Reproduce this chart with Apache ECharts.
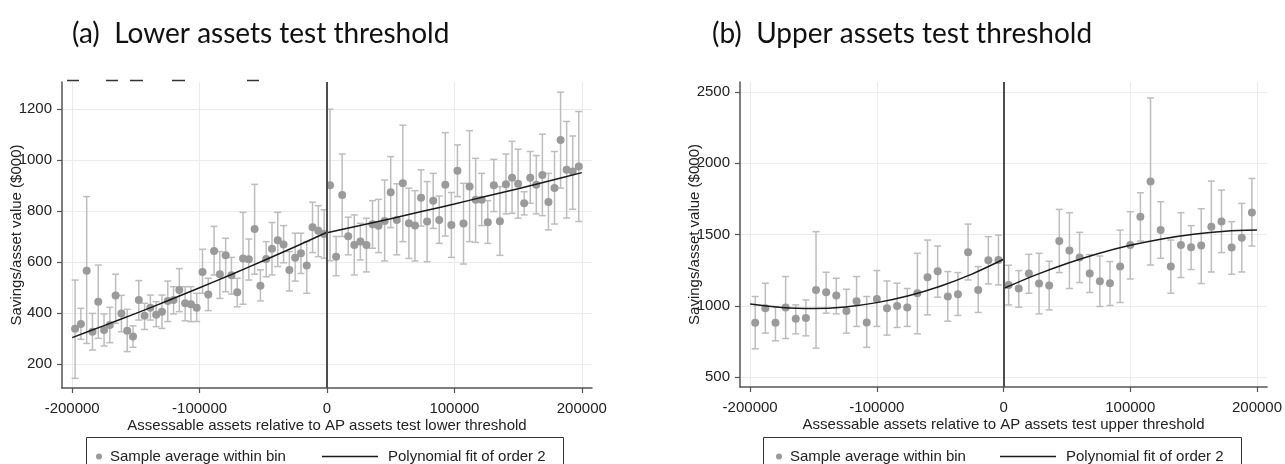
<!DOCTYPE html>
<html>
<head>
<meta charset="utf-8">
<script src="https://cdn.jsdelivr.net/npm/echarts@6.0.0/dist/echarts.min.js"></script>
<style>
html,body{margin:0;padding:0;background:#fff;}
#chart{width:1285px;height:464px;}
</style>
</head>
<body>
<div id="chart"></div>
<script>
// ---------- Panel (a): lower assets test threshold ----------
const aLeftX = [-197727,-193182,-188636,-184091,-179545,-175000,-170455,-165909,-161364,-156818,-152273,-147727,-143182,-138636,-134091,-129545,-125000,-120455,-115909,-111364,-106818,-102273,-97727,-93182,-88636,-84091,-79545,-75000,-70455,-65909,-61364,-56818,-52273,-47727,-43182,-38636,-34091,-29545,-25000,-20455,-15909,-11364,-6818,-2273];
const aLeftY = [338,356,566,326,444,333,352,468,398,330,307,451,389,420,393,405,447,451,490,438,434,420,561,472,643,552,626,548,481,614,611,730,507,612,652,685,669,569,617,634,586,736,723,710];
const aLeftLo = [143,296,280,254,300,270,283,359,326,248,265,372,335,372,346,339,366,396,405,369,366,366,477,409,549,457,483,474,424,434,529,552,447,542,549,582,597,486,525,555,477,637,621,615];
const aLeftHi = [529,418,857,398,588,396,422,552,469,414,349,527,438,470,444,470,525,503,574,503,503,477,650,536,740,641,693,618,536,795,690,905,569,680,755,795,743,641,713,713,680,835,821,805];

const aRightX = [2381,7143,11905,16667,21429,26190,30952,35714,40476,45238,50000,54762,59524,64286,69048,73810,78571,83333,88095,92857,97619,102381,107143,111905,116667,121429,126190,130952,135714,140476,145238,150000,154762,159524,164286,169048,173810,178571,183333,188095,192857,197619];
const aRightY = [901,621,863,701,667,680,667,748,742,761,874,765,909,752,743,852,759,841,765,903,745,958,751,897,844,844,756,901,760,905,931,907,831,931,903,942,836,891,1079,962,955,975];
const aRightLo = [605,546,700,628,549,608,561,654,637,604,735,628,680,614,604,741,601,732,673,702,618,857,592,680,677,743,673,798,626,789,791,772,785,831,789,782,726,749,890,773,807,759];
const aRightHi = [1200,700,1024,776,785,752,772,841,846,922,1014,907,1137,890,880,962,916,948,859,1108,873,1060,909,1116,1007,948,841,1003,896,1024,1074,1043,876,1034,1018,1102,948,1034,1267,1152,1095,1191];

const aFitLeftX = [-200000,-175000,-150000,-125000,-100000,-75000,-50000,-25000,0];
const aFitLeftY = [303,350,398,448,499,551,605,660,717];
const aFitRightX = [0,25000,50000,75000,100000,125000,150000,175000,200000];
const aFitRightY = [715,742,770,799,828,858,888,919,951];

// ---------- Panel (b): upper assets test threshold ----------
const bLeftX = [-196000,-188000,-180000,-172000,-164000,-156000,-148000,-140000,-132000,-124000,-116000,-108000,-100000,-92000,-84000,-76000,-68000,-60000,-52000,-44000,-36000,-28000,-20000,-12000,-4000];
const bLeftY = [880,983,880,988,908,915,1111,1095,1072,964,1032,883,1048,983,999,988,1088,1200,1242,1065,1081,1375,1111,1319,1321];
const bLeftLo = [698,808,754,770,803,789,703,948,943,808,855,708,855,794,848,855,803,936,1060,892,932,1181,953,1153,1146];
const bLeftHi = [1065,1158,995,1205,1006,1041,1520,1235,1193,1116,1205,1065,1247,1174,1158,1121,1368,1461,1419,1240,1233,1573,1275,1485,1496];

const bRightX = [4000,12000,20000,28000,36000,44000,52000,60000,68000,76000,84000,92000,100000,108000,116000,124000,132000,140000,148000,156000,164000,172000,180000,188000,196000];
const bRightY = [1146,1121,1226,1156,1142,1454,1387,1338,1226,1172,1158,1275,1426,1625,1872,1531,1275,1426,1410,1422,1555,1592,1408,1478,1655];
const bRightLo = [1006,990,1088,943,971,1233,1121,1163,1093,995,1002,1023,1188,1454,1286,1333,1088,1198,1254,1156,1237,1373,1221,1237,1419];
const bRightHi = [1284,1247,1361,1368,1312,1676,1653,1515,1359,1349,1310,1531,1660,1793,2458,1730,1461,1653,1562,1681,1875,1812,1590,1718,1893];

const bFitLeftX = [-200000,-175000,-150000,-125000,-100000,-75000,-50000,-25000,0];
const bFitLeftY = [1013,988,981,992,1022,1070,1137,1222,1326];
const bFitRightX = [0,25000,50000,75000,100000,125000,150000,175000,200000];
const bFitRightY = [1121,1215,1297,1367,1424,1469,1502,1523,1531];

// ---------- ticks / text ----------
const xTicks = [-200000,-100000,0,100000,200000];
const aYTicks = [200,400,600,800,1000,1200];
const bYTicks = [500,1000,1500,2000,2500];
const titles = ['(a)  Lower assets test threshold','(b)  Upper assets test threshold'];
const xNames = ['Assessable assets relative to AP assets test lower threshold','Assessable assets relative to AP assets test upper threshold'];
const yName = 'Savings/asset value ($000)';
const dotName = 'Sample average within bin';
const fitName = 'Polynomial fit of order 2';

// ---------- helpers ----------
const zip2 = (xs, ys) => xs.map((x, i) => [x, ys[i]]);
const zip3 = (xs, lo, hi) => xs.map((x, i) => [x, lo[i], hi[i]]);

const FONT = '"Liberation Sans", Arial, sans-serif';
const TXT = '#222';
const AX = '#555';

function errRender(params, api) {
  const x = api.value(0), lo = api.value(1), hi = api.value(2);
  const pHi = api.coord([x, hi]);
  const pLo = api.coord([x, lo]);
  const hw = 3.5;
  const st = { stroke: '#bdbdbd', lineWidth: 1.5, fill: null };
  return {
    type: 'group',
    children: [
      { type: 'line', shape: { x1: pHi[0], y1: pHi[1], x2: pLo[0], y2: pLo[1] }, style: st },
      { type: 'line', shape: { x1: pHi[0] - hw, y1: pHi[1], x2: pHi[0] + hw, y2: pHi[1] }, style: st },
      { type: 'line', shape: { x1: pLo[0] - hw, y1: pLo[1], x2: pLo[0] + hw, y2: pLo[1] }, style: st }
    ]
  };
}

function xAxisCfg(idx, name) {
  return {
    type: 'value', gridIndex: idx, min: -208000, max: 208000,
    name: name, nameLocation: 'middle', nameGap: 30, nameMoveOverlap: false,
    nameTextStyle: { fontSize: 15, color: TXT, fontFamily: FONT },
    axisLine: { show: true, onZero: false, lineStyle: { color: AX, width: 1.5 } },
    axisTick: { show: true, length: 5, customValues: xTicks, lineStyle: { color: AX, width: 1.2 } },
    axisLabel: { customValues: xTicks, formatter: v => String(v), fontSize: 15, color: TXT, fontFamily: FONT, margin: 13 },
    splitLine: { show: true, lineStyle: { color: '#ebebeb', width: 1 } }
  };
}
function yAxisCfg(idx, min, max, ticks) {
  return {
    type: 'value', gridIndex: idx, min: min, max: max,
    name: yName, nameLocation: 'middle', nameGap: 38, nameMoveOverlap: false,
    nameTextStyle: { fontSize: 15, color: TXT, fontFamily: FONT },
    axisLine: { show: true, onZero: false, lineStyle: { color: AX, width: 1.5 } },
    axisTick: { show: true, length: 5, customValues: ticks, lineStyle: { color: AX, width: 1.2 } },
    axisLabel: { customValues: ticks, formatter: v => String(v), fontSize: 15, color: TXT, fontFamily: FONT, margin: 10 },
    splitLine: { show: true, lineStyle: { color: '#ebebeb', width: 1 } }
  };
}

function panelSeries(idx, lx, ly, llo, lhi, rx, ry, rlo, rhi, flx, fly, frx, fry) {
  return [
    {
      type: 'custom', name: 'err' + idx, xAxisIndex: idx, yAxisIndex: idx,
      renderItem: errRender, encode: { x: 0, y: [1, 2] }, silent: true, z: 2,
      data: zip3(lx, llo, lhi).concat(zip3(rx, rlo, rhi))
    },
    {
      type: 'scatter', name: dotName, xAxisIndex: idx, yAxisIndex: idx,
      symbol: 'circle', symbolSize: 8, itemStyle: { color: '#9a9a9a', opacity: 1 }, z: 3,
      data: zip2(lx, ly).concat(zip2(rx, ry)),
      markLine: {
        silent: true, symbol: 'none', label: { show: false },
        lineStyle: { color: '#4d4d4d', width: 2, type: 'solid' },
        data: [{ xAxis: 0 }]
      }
    },
    {
      type: 'line', name: fitName, xAxisIndex: idx, yAxisIndex: idx,
      symbol: 'none', smooth: 0.3, lineStyle: { color: '#1a1a1a', width: 1.5 }, itemStyle: { color: '#1a1a1a' }, z: 4,
      data: zip2(flx, fly)
    },
    {
      type: 'line', name: fitName, xAxisIndex: idx, yAxisIndex: idx,
      symbol: 'none', smooth: 0.3, lineStyle: { color: '#1a1a1a', width: 1.5 }, itemStyle: { color: '#1a1a1a' }, z: 4,
      data: zip2(frx, fry)
    }
  ];
}

function legendPair(dotLeft, lineLeft) {
  const ts = { fontSize: 15, color: TXT, fontFamily: FONT };
  return [
    { left: dotLeft, top: 444, selectedMode: false, itemWidth: 12, itemHeight: 6,
      data: [{ name: dotName, icon: 'circle', itemStyle: { color: '#9a9a9a' } }], textStyle: ts },
    { left: lineLeft, top: 444, selectedMode: false, itemWidth: 56, itemHeight: 1.5,
      data: [{ name: fitName, icon: 'rect', itemStyle: { color: '#1a1a1a' } }],
      textStyle: Object.assign({ padding: [0, 0, 0, 5] }, ts) }
  ];
}

const chart = echarts.init(document.getElementById('chart'), null, { renderer: 'canvas' });
const dashStyle = { stroke: '#333', lineWidth: 1.5 };
const titleStyle = { fontFamily: 'Lato, "Open Sans", sans-serif', fontSize: 28, fontWeight: 'normal', color: '#111' };
chart.setOption({
  animation: false,
  backgroundColor: '#fff',
  title: [
    { text: titles[0], left: 67, top: 15, textStyle: titleStyle },
    { text: titles[1], left: 707, top: 15, textStyle: titleStyle }
  ],
  grid: [
    { left: 62, top: 82, width: 530, height: 306 },
    { left: 740, top: 82, width: 529, height: 305 }
  ],
  xAxis: [xAxisCfg(0, xNames[0]), xAxisCfg(1, xNames[1])],
  yAxis: [yAxisCfg(0, 105, 1307, aYTicks), yAxisCfg(1, 430, 2570, bYTicks)],
  legend: legendPair(91, 317).concat(legendPair(771, 995)),
  graphic: [
    { type: 'rect', silent: true, shape: { x: 86.5, y: 437.5, width: 477, height: 40 }, style: { fill: 'none', stroke: '#333', lineWidth: 1 } },
    { type: 'rect', silent: true, shape: { x: 763.5, y: 437.5, width: 478, height: 40 }, style: { fill: 'none', stroke: '#333', lineWidth: 1 } },
    { type: 'line', silent: true, shape: { x1: 67, y1: 80.5, x2: 79, y2: 80.5 }, style: dashStyle },
    { type: 'line', silent: true, shape: { x1: 106, y1: 80.5, x2: 118, y2: 80.5 }, style: dashStyle },
    { type: 'line', silent: true, shape: { x1: 130, y1: 80.5, x2: 143, y2: 80.5 }, style: dashStyle },
    { type: 'line', silent: true, shape: { x1: 172, y1: 80.5, x2: 185, y2: 80.5 }, style: dashStyle },
    { type: 'line', silent: true, shape: { x1: 247, y1: 80.5, x2: 259, y2: 80.5 }, style: dashStyle }
  ],
  series: panelSeries(0, aLeftX, aLeftY, aLeftLo, aLeftHi, aRightX, aRightY, aRightLo, aRightHi, aFitLeftX, aFitLeftY, aFitRightX, aFitRightY)
    .concat(panelSeries(1, bLeftX, bLeftY, bLeftLo, bLeftHi, bRightX, bRightY, bRightLo, bRightHi, bFitLeftX, bFitLeftY, bFitRightX, bFitRightY))
});
</script>
</body>
</html>
